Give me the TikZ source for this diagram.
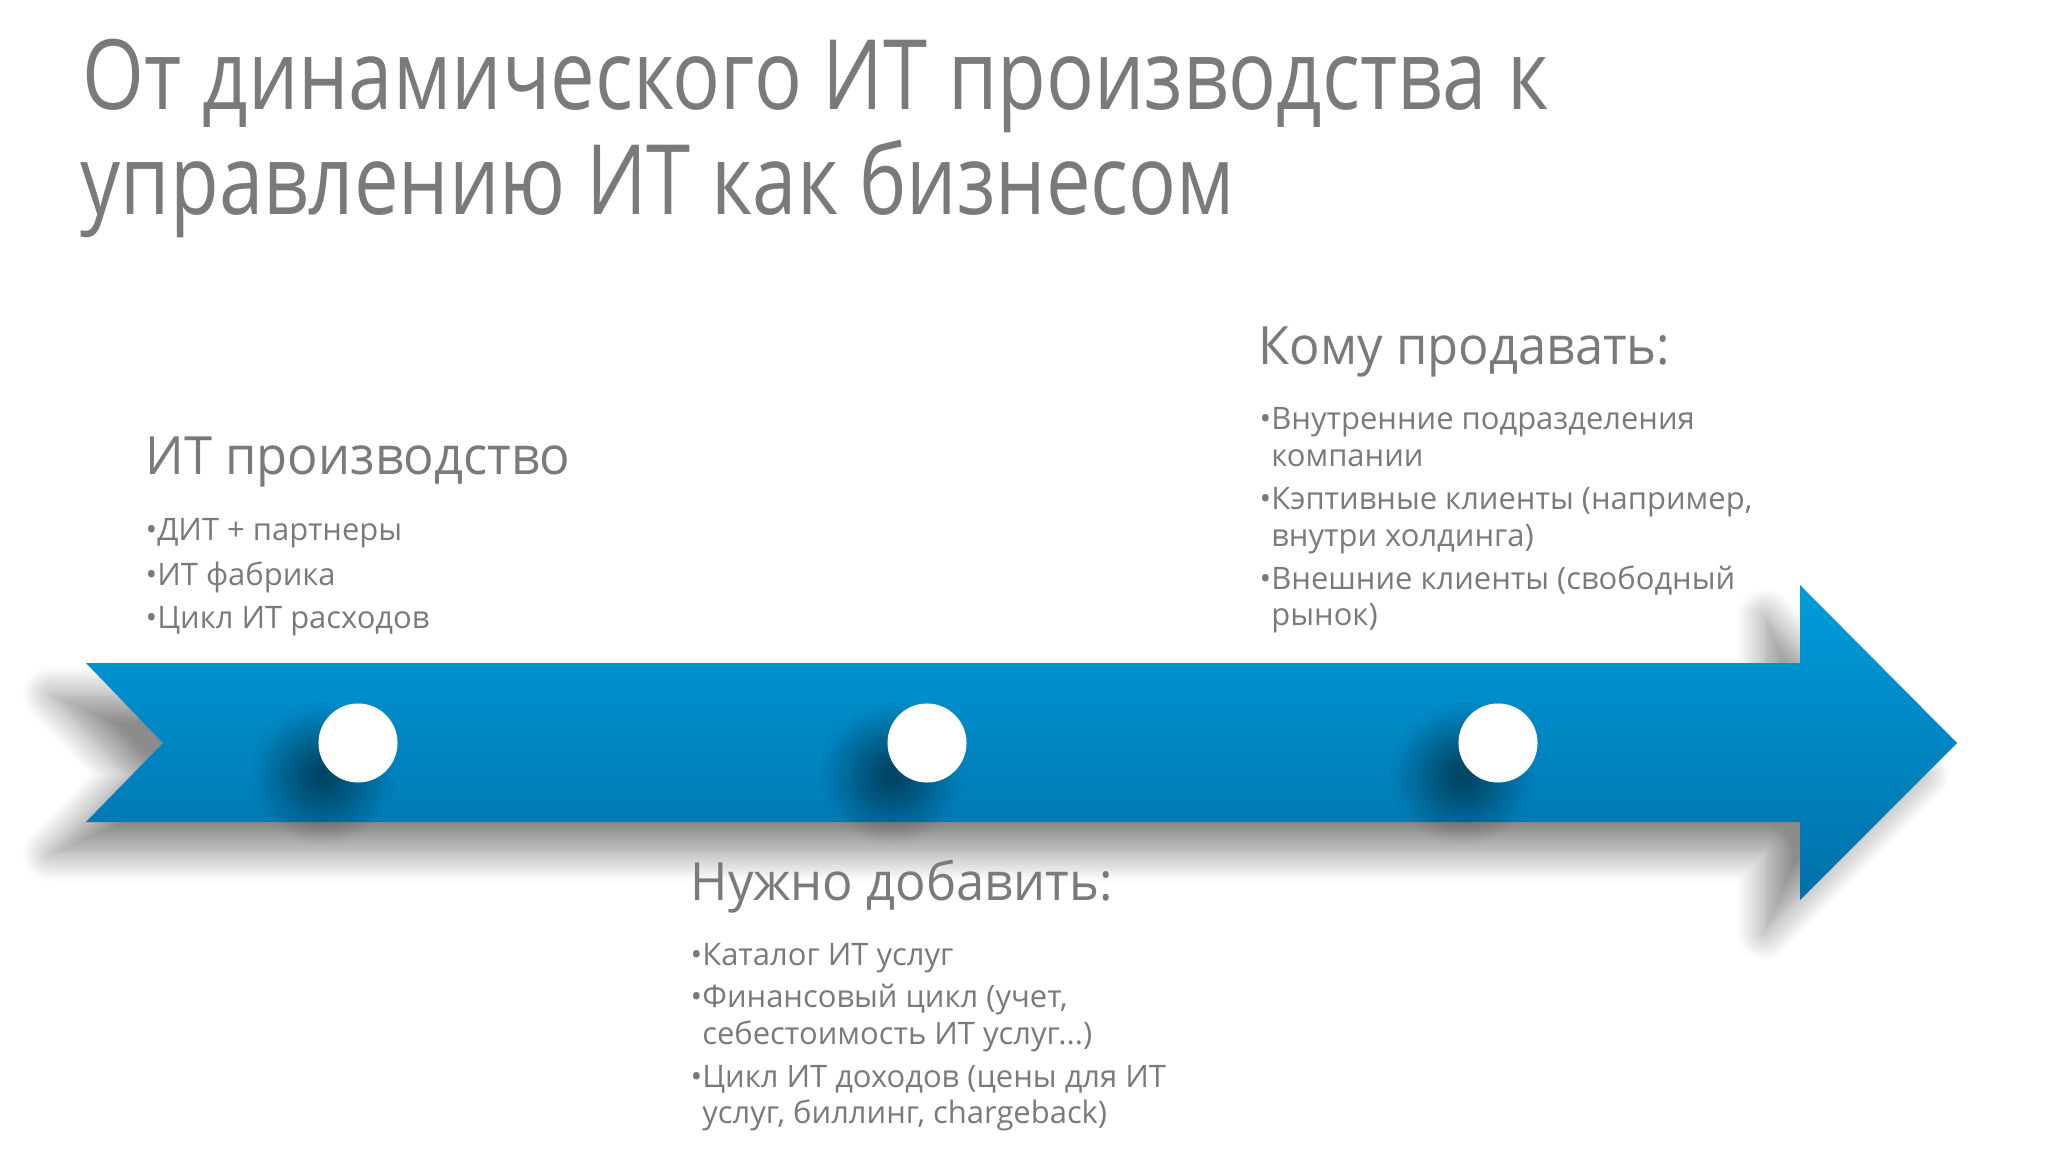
\documentclass[tikz,border=0pt]{standalone}
\usepackage{fontspec}
\setmainfont{Open Sans}
\newfontfamily\titlefont[FakeStretch=0.82]{Open Sans}
\newfontfamily\headfont[FakeStretch=0.96]{Open Sans}
\usetikzlibrary{positioning,shadows.blur}

\definecolor{arrowtop}{RGB}{0,156,220}
\definecolor{arrowbot}{RGB}{0,112,168}
\definecolor{txtgray}{RGB}{122,122,122}

\tikzset{
	ttl/.style={anchor=base west, inner sep=0pt, text=txtgray, font=\titlefont\fontsize{27.6}{30}\selectfont},
	headtxt/.style={anchor=base west, inner sep=0pt, text=txtgray, font=\headfont\fontsize{15}{18}\selectfont},
	itemtxt/.style={anchor=base west, inner sep=0pt, text=txtgray, font=\fontsize{8.8}{10}\selectfont},
	stopdot/.style={circle, fill=white, minimum size=0.79cm, inner sep=0pt,
		blur shadow={shadow xshift=-10pt, shadow yshift=-9pt, shadow blur radius=9pt,
			shadow blur steps=14, shadow opacity=45}},
}

\begin{document}
\begin{tikzpicture}[x=0.01cm, y=-0.01cm]
	\useasboundingbox (0,0) rectangle (2048,1152);
	
	% title
	\node[ttl] (t1) at (82,110) {От динамического ИТ производства к};
	\node[ttl] (t2) at (80,215) {управлению ИТ как бизнесом};
	
	% the arrow
	\path[top color=arrowtop, bottom color=arrowbot,
		blur shadow={shadow xshift=-10pt, shadow yshift=-9pt, shadow blur radius=8pt,
			shadow blur steps=14, shadow opacity=45}]
		(86,663) -- (1800,663) -- (1800,585) -- (1957,743) -- (1800,900)
		-- (1800,822) -- (86,822) -- (163,743) -- cycle;
	
	\node[stopdot] (m1) at (358,743) {};
	\node[stopdot] (m2) at (927,743) {};
	\node[stopdot] (m3) at (1498,743) {};
	
	% IT production
	\node[headtxt] (h1) at (145,475) {ИТ производство};
	\node[itemtxt] (a1) at (145,541) {•ДИТ + партнеры};
	\node[itemtxt] (a2) at (145,585) {•ИТ фабрика};
	\node[itemtxt] (a3) at (145,629) {•Цикл ИТ расходов};
	
	% whom to sell
	\node[headtxt] (h2) at (1258,365) {Кому продавать:};
	\node[itemtxt] (b1) at (1259,430) {•Внутренние подразделения};
	\node[itemtxt] (b2) at (1259,467) {\phantom{•}компании};
	\node[itemtxt] (b3) at (1259,510) {•Кэптивные клиенты (например,};
	\node[itemtxt] (b4) at (1259,547) {\phantom{•}внутри холдинга)};
	\node[itemtxt] (b5) at (1259,590) {•Внешние клиенты (свободный};
	\node[itemtxt] (b6) at (1259,626) {\phantom{•}рынок)};
	
	% to add
	\node[headtxt] (h3) at (690,900) {Нужно добавить:};
	\node[itemtxt] (c1) at (690,965) {•Каталог ИТ услуг};
	\node[itemtxt] (c2) at (690,1007) {•Финансовый цикл (учет,};
	\node[itemtxt] (c3) at (690,1044) {\phantom{•}себестоимость ИТ услуг...)};
	\node[itemtxt] (c4) at (690,1087) {•Цикл ИТ доходов (цены для ИТ};
	\node[itemtxt] (c5) at (690,1123) {\phantom{•}услуг, биллинг, chargeback)};
\end{tikzpicture}
\end{document}
